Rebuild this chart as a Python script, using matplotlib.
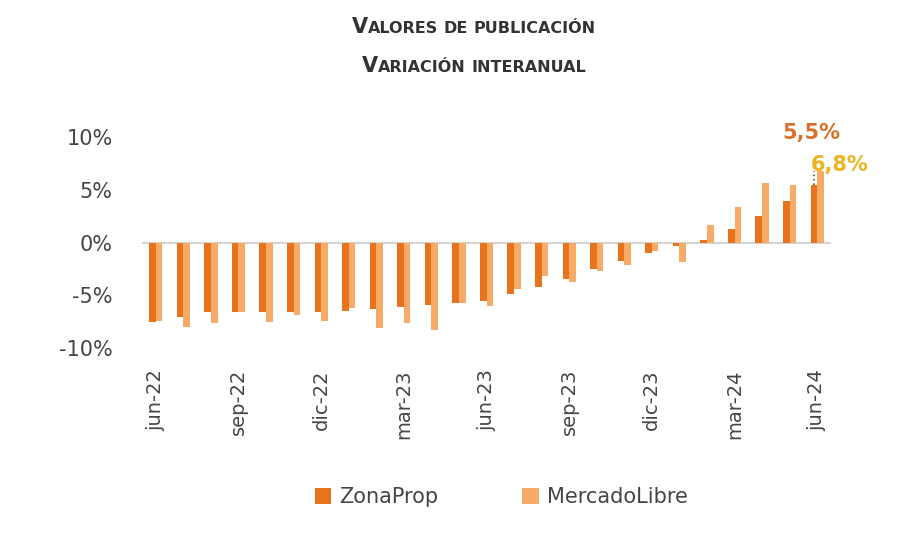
import numpy as np
import matplotlib
matplotlib.use("Agg")
import matplotlib.pyplot as plt
from matplotlib.offsetbox import TextArea, HPacker, AnnotationBbox

plt.rcParams['font.family'] = ['DejaVu Sans']

# datos: variación interanual (%) de valores de publicación
meses = ['jun-22', 'jul-22', 'ago-22', 'sep-22', 'oct-22', 'nov-22', 'dic-22',
         'ene-23', 'feb-23', 'mar-23', 'abr-23', 'may-23', 'jun-23', 'jul-23',
         'ago-23', 'sep-23', 'oct-23', 'nov-23', 'dic-23', 'ene-24', 'feb-24',
         'mar-24', 'abr-24', 'may-24', 'jun-24']
zonaprop = [-7.5, -7.0, -6.6, -6.6, -6.6, -6.6, -6.6, -6.5, -6.3, -6.1, -5.9,
            -5.7, -5.5, -4.9, -4.2, -3.4, -2.5, -1.7, -1.0, -0.3, 0.25, 1.3,
            2.5, 4.0, 5.5]
mercadolibre = [-7.4, -8.0, -7.6, -6.6, -7.5, -6.9, -7.4, -6.2, -8.05, -7.6,
                -8.3, -5.75, -6.0, -4.4, -3.2, -3.7, -2.7, -2.1, -0.8, -1.8,
                1.7, 3.4, 5.7, 5.45, 6.8]
etiquetas = ['jun-22', 'sep-22', 'dic-22', 'mar-23', 'jun-23', 'sep-23',
             'dic-23', 'mar-24', 'jun-24']

c_zp = '#E9731C'
c_ml = '#F7AB66'
gris = '#454545'

fig = plt.figure(figsize=[9.18, 5.36], dpi=100)
ax = fig.add_axes([142 / 918, 1 - 348.2 / 536, (831 - 142) / 918, (348.2 - 137.2) / 536])

x = np.arange(len(meses))
w = 0.24
ax.bar(x - w / 2, zonaprop, width=w, color=c_zp, label='ZonaProp', zorder=3)
ax.bar(x + w / 2, mercadolibre, width=w, color=c_ml, label='MercadoLibre', zorder=3)

ax.axhline(0, color='#d4d4d4', lw=1.5, zorder=2)
ax.set_xlim(-0.5, len(meses) - 0.5)
ax.set_ylim(-10, 10)
ax.set_yticks([-10, -5, 0, 5, 10])
ax.set_yticklabels(['-10%', '-5%', '0%', '5%', '10%'])
ax.set_xticks([meses.index(m) for m in etiquetas])
ax.set_xticklabels(etiquetas, rotation=90)
ax.tick_params(axis='y', length=0, pad=21, labelsize=15, labelcolor=gris)
ax.tick_params(axis='x', length=0, pad=15, labelsize=14, labelcolor=gris)
for s in ax.spines.values():
    s.set_visible(False)

# etiquetas del último dato
ax.plot([x[-1] - w / 2] * 2, [zonaprop[-1], mercadolibre[-1]], ls=':', color='#555555', lw=1.2, zorder=4)
ax.annotate('5,5%', xy=(x[-1] - w / 2, zonaprop[-1]), xytext=(-2, 37), textcoords='offset points',
            ha='center', va='center', fontsize=15, fontweight='bold', color='#D8722A')
ax.annotate('6,8%', xy=(x[-1] + w / 2, mercadolibre[-1]), xytext=(14, 4), textcoords='offset points',
            ha='center', va='center', fontsize=15, fontweight='bold', color='#EDB320', zorder=5)

# título en versalitas
def versalitas(txt, y):
    estilo = dict(fontweight='heavy', color='#333333')
    partes = []
    for palabra_i, palabra in enumerate(txt.split(' ')):
        if palabra_i > 0:
            partes.append(TextArea(' ', textprops=dict(fontsize=11.5, **estilo)))
        if palabra[0].isupper():
            partes.append(TextArea(palabra[0], textprops=dict(fontsize=15, **estilo)))
            resto = palabra[1:]
        else:
            resto = palabra
        if resto:
            partes.append(TextArea(resto.upper(), textprops=dict(fontsize=11.5, **estilo)))
    caja = HPacker(children=partes, align='baseline', pad=0, sep=0)
    ab = AnnotationBbox(caja, (474 / 918, y), xycoords='figure fraction', frameon=False, box_alignment=(0.5, 0.5))
    fig.add_artist(ab)

versalitas('Valores de publicación', 1 - 27 / 536)
versalitas('Variación interanual', 1 - 66 / 536)

fig.legend(loc='center', bbox_to_anchor=(0.546, 1 - 497 / 536), ncol=2, frameon=False,
           fontsize=15, handlelength=0.8, handleheight=0.8, handletextpad=0.4, columnspacing=4.0,
           labelcolor=gris)

fig.savefig('out.png', dpi=100)
